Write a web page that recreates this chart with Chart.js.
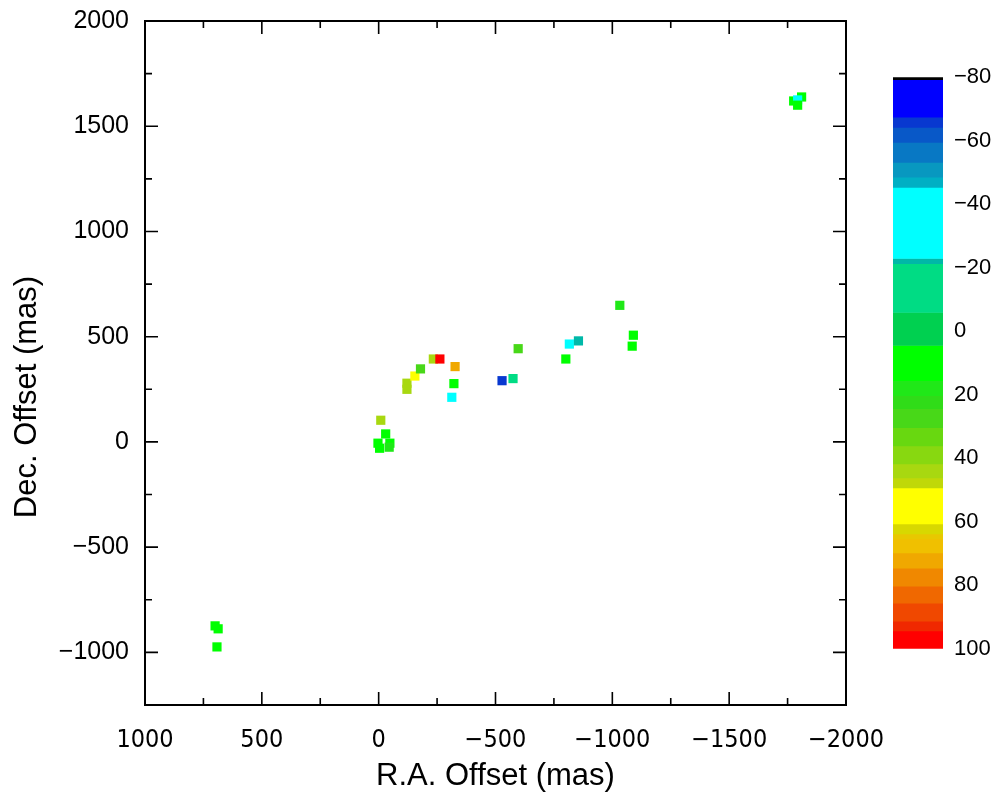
<!DOCTYPE html>
<html>
<head>
<meta charset="utf-8">
<script src="https://cdn.jsdelivr.net/npm/chart.js@4/dist/chart.umd.min.js"></script>
<style>
    html, body { margin: 0; padding: 0; background: #fff; overflow: hidden; }
    #wrap { position: relative; width: 992px; height: 801px; overflow: hidden; }
    #mainChart { position: absolute; left: 0; top: -10px; }
    #barChart { position: absolute; left: 880px; top: 53px; }
</style>
</head>
<body>
<div id="wrap">
    <canvas id="mainChart" width="992" height="811"></canvas>
    <canvas id="barChart" width="112" height="620"></canvas>
</div>
<script>
// maser spots: offsets in mas, velocity in km/s
const raOffset  = [-1776, -1810, -1793, -1793, 700, 687, 692,
                   -9, 3, -30, -48, -45, -4, -121, -121, -155, -179, -234, -262,
                   -327, -322, -313, -528, -575, -597, -801, -816, -855, -1032, -1090, -1085];
const decOffset = [1620, 1639, 1625, 1600, -874, -888, -974,
                   103, -6, 38, -6, -25, -30, 279, 250, 313, 347, 394, 394,
                   358, 277, 212, 291, 301, 443, 394, 465, 480, 649, 507, 455];
const velocity  = [10, 10, -35, 10, 10, 10, 10,
                   42, 10, 14, 12, 16, 10, 42, 42, 55, 28, 44, 95,
                   70, 12, -35, -65, -15, 25, 10, -35, -22, 20, 12, 12];

const xTicks = [1000, 500, 0, -500, -1000, -1500, -2000];
const xMinor = [750, 250, -250, -750, -1250, -1750];
const yTicks = [2000, 1500, 1000, 500, 0, -500, -1000];
const yMinor = [1750, 1250, 750, 250, -250, -750];
const barTicks = [-80, -60, -40, -20, 0, 20, 40, 60, 80, 100];

// colour bar bands (velocity edges) and their colours
const bandEdges = [-80, -79.2, -67.4, -64.2, -59.5, -53.2, -48.5, -45.3, -22.9, -21.3, -5.9, 4.5,
                   15.6, 20.3, 24.4, 30.4, 36.1, 41.8, 46.2, 49.3, 60.7, 63.8, 65.4, 69.8,
                   74.6, 80.3, 85.6, 91.3, 94.4, 100];
const bandColors = ['#000000', '#0000ff', '#0838d0', '#0858c8', '#0878c4', '#0898c0', '#00b0c4',
                    '#00ffff', '#00b8a8', '#00dc84', '#00d050', '#00ff00',
                    '#20e818', '#30dc18', '#48d818', '#68d810', '#88d810', '#a8d810', '#c0d808',
                    '#ffff00', '#d8d800', '#e8c800', '#f0c000', '#f0a800', '#f08800',
                    '#f06800', '#f04800', '#f02800', '#ff0000'];

function velColor(v) {
    for (let i = 1; i < bandColors.length; i++) {
        if (v >= bandEdges[i] && v < bandEdges[i + 1]) return bandColors[i];
    }
    return bandColors[bandColors.length - 1];
}

const fmt = v => (v < 0 ? '\u2212' + Math.abs(v) : String(v));

// box round the plot, ticks pointing inward, y title
const frameTicks = {
    id: 'frameTicks',
    afterDraw(chart) {
        const { ctx, chartArea: a, scales: { x, y } } = chart;
        ctx.save();
        ctx.strokeStyle = '#000';
        ctx.lineWidth = 2;
        ctx.strokeRect(a.left, a.top, a.right - a.left, a.bottom - a.top);
        ctx.lineWidth = 1.6;
        ctx.beginPath();
        const tickX = (v, len) => {
            const px = x.getPixelForValue(v);
            ctx.moveTo(px, a.bottom); ctx.lineTo(px, a.bottom - len);
            ctx.moveTo(px, a.top); ctx.lineTo(px, a.top + len);
        };
        const tickY = (v, len) => {
            const py = y.getPixelForValue(v);
            ctx.moveTo(a.left, py); ctx.lineTo(a.left + len, py);
            ctx.moveTo(a.right, py); ctx.lineTo(a.right - len, py);
        };
        xTicks.forEach(v => tickX(v, 13));
        xMinor.forEach(v => tickX(v, 7));
        yTicks.forEach(v => tickY(v, 13));
        yMinor.forEach(v => tickY(v, 7));
        ctx.stroke();

        ctx.translate(27, 407);
        ctx.rotate(-Math.PI / 2);
        ctx.fillStyle = '#000';
        ctx.font = '31px "Liberation Sans", Arial, sans-serif';
        ctx.textAlign = 'center';
        ctx.textBaseline = 'middle';
        ctx.fillText('Dec. Offset (mas)', 0, 0);
        ctx.restore();
    }
};

const points = raOffset.map((x, i) => ({ x: x, y: decOffset[i] }));

new Chart(document.getElementById('mainChart'), {
    type: 'scatter',
    data: {
        datasets: [{
            data: points,
            pointStyle: 'rect',
            pointRadius: 6.5,
            pointHoverRadius: 6.5,
            borderWidth: 0,
            backgroundColor: velocity.map(velColor)
        }]
    },
    options: {
        responsive: false,
        animation: false,
        layout: { padding: { top: 11, right: 146, left: 0, bottom: 0 } },
        plugins: { legend: { display: false }, tooltip: { enabled: false } },
        scales: {
            x: {
                type: 'linear',
                min: -2000,
                max: 1000,
                reverse: true,
                afterBuildTicks: s => { s.ticks = xTicks.map(v => ({ value: v })); },
                afterFit: s => { s.height = 96; },
                grid: { display: false, drawTicks: false },
                border: { display: false },
                ticks: {
                    color: '#000',
                    padding: 20,
                    maxRotation: 0,
                    font: { family: '"Liberation Sans Narrow", "DejaVu Sans Condensed", sans-serif', size: 25 },
                    callback: v => fmt(v)
                },
                title: {
                    display: true,
                    text: 'R.A. Offset (mas)',
                    color: '#000',
                    font: { family: '"Liberation Sans", Arial, sans-serif', size: 31 },
                    padding: { top: 0, bottom: 6 }
                }
            },
            y: {
                type: 'linear',
                min: -1250,
                max: 2000,
                afterBuildTicks: s => { s.ticks = yTicks.map(v => ({ value: v })); },
                afterFit: s => { s.width = 145; },
                grid: { display: false, drawTicks: false },
                border: { display: false },
                ticks: {
                    color: '#000',
                    padding: 16,
                    font: { family: '"Liberation Sans", Arial, sans-serif', size: 25 },
                    callback: v => fmt(v)
                }
            }
        }
    },
    plugins: [frameTicks]
});

// colour bar as floating bars on a velocity scale
new Chart(document.getElementById('barChart'), {
    type: 'bar',
    data: {
        labels: ['v'],
        datasets: bandColors.map((c, i) => ({
            data: [[bandEdges[i], bandEdges[i + 1]]],
            backgroundColor: c,
            borderWidth: 0,
            grouped: false,
            barPercentage: 1,
            categoryPercentage: 1
        }))
    },
    options: {
        responsive: false,
        animation: false,
        layout: { padding: { top: 17, bottom: 22, left: 13, right: 0 } },
        plugins: { legend: { display: false }, tooltip: { enabled: false } },
        scales: {
            x: { display: false },
            y: {
                position: 'right',
                reverse: true,
                min: -80,
                max: 100,
                afterBuildTicks: s => { s.ticks = barTicks.map(v => ({ value: v })); },
                afterFit: s => { s.width = 49; },
                grid: { display: false, drawTicks: false },
                border: { display: false },
                ticks: {
                    color: '#000',
                    padding: 11,
                    font: { family: '"Liberation Sans", Arial, sans-serif', size: 22 },
                    callback: v => fmt(v)
                }
            }
        }
    }
});
</script>
</body>
</html>
